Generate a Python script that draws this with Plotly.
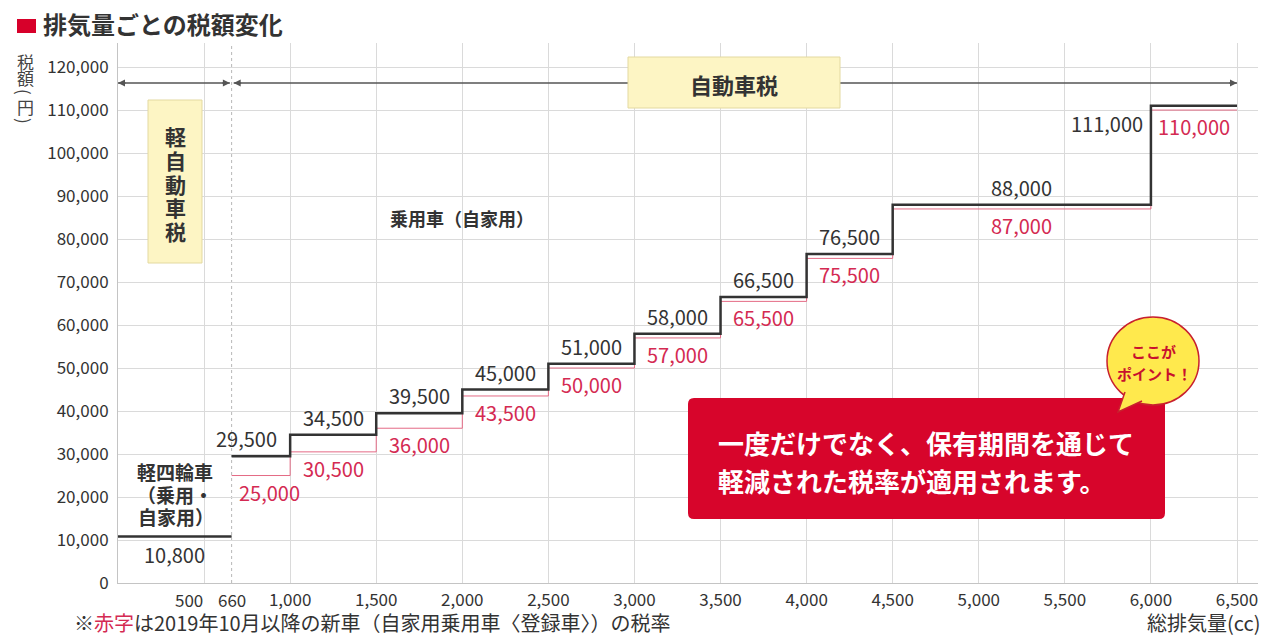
import plotly.graph_objects as go

# ---------------- data ----------------
kei_range = [0, 660]
kei_tax = 10800
bin_starts = [660, 1000, 1500, 2000, 2500, 3000, 3500, 4000, 4500, 6000]
bin_end = 6500
current_tax = [29500, 34500, 39500, 45000, 51000, 58000, 66500, 76500, 88000, 111000]
new_tax = [25000, 30500, 36000, 43500, 50000, 57000, 65500, 75500, 87000, 110000]
x_tick_vals = [500, 1000, 1500, 2000, 2500, 3000, 3500, 4000, 4500, 5000, 5500, 6000, 6500]
x_tick_text = ["500", "1,000", "1,500", "2,000", "2,500", "3,000", "3,500", "4,000",
               "4,500", "5,000", "5,500", "6,000", "6,500"]
y_tick_vals = [0, 10000, 20000, 30000, 40000, 50000, 60000, 70000, 80000, 90000, 100000, 110000, 120000]
y_tick_text = ["0", "10,000", "20,000", "30,000", "40,000", "50,000", "60,000", "70,000",
               "80,000", "90,000", "100,000", "110,000", "120,000"]
kei_boundary = 660

# ---------------- layout geometry ----------------
W, H = 1264, 636
L, R, T, B = 118, 6, 43, 53
PW, PH = W - L - R, H - T - B
SL, SB = L, H - B
JP = "Noto Sans CJK JP"
DARK = "#333333"
RED = "#d42a52"


def X(px):
    return (px - SL) / PW


def Y(py):
    return (SB - py) / PH


def fmt(v):
    return f"{v:,}"


step_x = bin_starts + [bin_end]
fig = go.Figure()
fig.add_trace(go.Scatter(x=step_x, y=new_tax + [new_tax[-1]], mode="lines", line_shape="hv",
                         line=dict(color="#e46a85", width=1), hoverinfo="skip", showlegend=False))
fig.add_trace(go.Scatter(x=step_x, y=current_tax + [current_tax[-1]], mode="lines", line_shape="hv",
                         line=dict(color=DARK, width=2.5), hoverinfo="skip", showlegend=False))
fig.add_trace(go.Scatter(x=kei_range, y=[kei_tax, kei_tax], mode="lines",
                         line=dict(color=DARK, width=2.5), hoverinfo="skip", showlegend=False))

ann = []
ends = bin_starts[1:] + [bin_end]
n = len(bin_starts)
for i in range(n):
    mid = (bin_starts[i] + ends[i]) / 2
    bx = -14 if i == 0 else 0
    rx = 9 if i == 0 else 0
    if i < n - 1:
        ann.append(dict(x=mid, y=current_tax[i], text=fmt(current_tax[i]), showarrow=False,
                        yanchor="bottom", yshift=1, xshift=bx,
                        font=dict(family=JP, size=20, color=DARK)))
    else:
        ann.append(dict(x=bin_starts[i], y=current_tax[i], text=fmt(current_tax[i]), showarrow=False,
                        xanchor="right", xshift=-6, yanchor="top", yshift=-1,
                        font=dict(family=JP, size=20, color=DARK)))
    ann.append(dict(x=mid, y=new_tax[i], text=fmt(new_tax[i]), showarrow=False,
                    yanchor="top", yshift=0, xshift=rx,
                    font=dict(family=JP, size=20, color=RED)))

ann.append(dict(x=sum(kei_range) / 2, y=kei_tax, text=fmt(kei_tax), showarrow=False,
                yanchor="top", yshift=-1, font=dict(family=JP, size=20, color=DARK)))

# tick labels near the kei boundary (500 is nudged left to make room for 660)
axis_labels = [(x_tick_vals[0], x_tick_text[0], -15), (kei_boundary, str(kei_boundary), 0)]
for xv, t, sh in axis_labels:
    ann.append(dict(x=xv, y=Y(599), yref="paper", text=t, showarrow=False, xshift=sh,
                    xanchor="center", yanchor="middle",
                    font=dict(family=JP, size=17, color=DARK)))
axis_tick_text = [""] + x_tick_text[1:]


def txt(px, py, text, size, color=DARK, xanchor="center", bold=False, angle=0):
    t = f"<b>{text}</b>" if bold else text
    ann.append(dict(x=X(px), y=Y(py), xref="paper", yref="paper", text=t, showarrow=False,
                    xanchor=xanchor, yanchor="middle", textangle=angle,
                    font=dict(family=JP, size=size, color=color)))


# title
txt(41, 24, "排気量ごとの税額変化", 24, color=DARK, xanchor="left", bold=True)
# y axis title (vertical)
txt(25, 61, "税", 17, color="#444444")
txt(25, 78, "額", 17, color="#444444")
txt(25, 92, "(", 17, color="#444444", angle=90)
txt(25, 107, "円", 17, color="#444444")
txt(25, 121, ")", 17, color="#444444", angle=90)

# 軽自動車税 vertical box text
for ch, py in zip("軽自動車税", [136, 160, 184, 207, 231]):
    txt(175, py, ch, 21, bold=True)
txt(734, 84, "自動車税", 22, bold=True)
txt(462, 218, "乗用車（自家用）", 18, bold=True)
txt(175, 471, "軽四輪車", 19, bold=True)
txt(175, 494, "（乗用・", 19, bold=True)
txt(176, 516, "自家用）", 19, bold=True)

# callout text
txt(716, 442, "一度だけでなく、保有期間を通じて", 26, color="white", xanchor="left", bold=True)
txt(716, 480, "軽減された税率が適用されます。", 26, color="white", xanchor="left", bold=True)
txt(1153, 351, "ここが", 15, color="#c8102e", bold=True)
txt(1154, 373, "ポイント！", 15, color="#c8102e", bold=True)

# footnotes
ann.append(dict(x=X(72), y=Y(622), xref="paper", yref="paper", showarrow=False, xanchor="left",
                yanchor="middle",
                text="※<span style='color:#d42a52'>赤字</span>は2019年10月以降の新車（自家用乗用車〈登録車〉）の税率",
                font=dict(family=JP, size=20, color=DARK)))
txt(1262, 623, "総排気量(cc)", 20, xanchor="right")

# arrow heads on the range line
arrow_y = Y(83)
for hx, dx in [(0, 9), (650, -9), (672, 9), (6500, -9)]:
    ann.append(dict(x=hx, y=arrow_y, xref="x", yref="paper", text="", showarrow=True,
                    ax=dx, ay=0, arrowhead=2, arrowsize=1, arrowwidth=1.4, arrowcolor="#555555",
                    standoff=0))

shapes = []
# dotted boundary at 660
shapes.append(dict(type="line", xref="x", yref="paper", x0=kei_boundary, x1=kei_boundary, y0=0, y1=1,
                   line=dict(color="#b8b8b8", width=1, dash="dot"), layer="below"))
# range lines
shapes.append(dict(type="line", xref="x", yref="paper", x0=0, x1=650, y0=arrow_y, y1=arrow_y,
                   line=dict(color="#555555", width=1.4)))
shapes.append(dict(type="line", xref="x", yref="paper", x0=672, x1=6500, y0=arrow_y, y1=arrow_y,
                   line=dict(color="#555555", width=1.4)))
# yellow boxes
shapes.append(dict(type="rect", xref="paper", yref="paper", x0=X(148), x1=X(202), y0=Y(263), y1=Y(100),
                   fillcolor="#fdf5c4", line=dict(color="#e3d9a0", width=1)))
shapes.append(dict(type="rect", xref="paper", yref="paper", x0=X(628), x1=X(840), y0=Y(108), y1=Y(57),
                   fillcolor="#fdf5c4", line=dict(color="#e3d9a0", width=1)))


def rounded(px0, py0, px1, py1, r):
    pts = [
        f"M{X(px0 + r)},{Y(py0)}", f"L{X(px1 - r)},{Y(py0)}", f"Q{X(px1)},{Y(py0)} {X(px1)},{Y(py0 + r)}",
        f"L{X(px1)},{Y(py1 - r)}", f"Q{X(px1)},{Y(py1)} {X(px1 - r)},{Y(py1)}",
        f"L{X(px0 + r)},{Y(py1)}", f"Q{X(px0)},{Y(py1)} {X(px0)},{Y(py1 - r)}",
        f"L{X(px0)},{Y(py0 + r)}", f"Q{X(px0)},{Y(py0)} {X(px0 + r)},{Y(py0)}", "Z"]
    return " ".join(pts)


shapes.append(dict(type="path", xref="paper", yref="paper", path=rounded(688, 398, 1165, 519, 6),
                   fillcolor="#d7052b", line=dict(width=0)))
# speech bubble
shapes.append(dict(type="circle", xref="paper", yref="paper", x0=X(1107), x1=X(1199), y0=Y(405), y1=Y(317),
                   fillcolor="#ffe94d", line=dict(color="#c8202e", width=1.5)))
shapes.append(dict(type="path", xref="paper", yref="paper",
                   path=f"M{X(1125)},{Y(392)} L{X(1118)},{Y(412)} L{X(1142)},{Y(401)}",
                   fillcolor="#ffe94d", line=dict(color="#c8202e", width=1.5)))
# title square
shapes.append(dict(type="rect", xref="paper", yref="paper", x0=X(17), x1=X(36), y0=Y(33), y1=Y(19),
                   fillcolor="#d7002a", line=dict(width=0)))

fig.update_layout(
    width=W, height=H, autosize=False,
    margin=dict(l=L, r=R, t=T, b=B, pad=0),
    paper_bgcolor="white", plot_bgcolor="white",
    showlegend=False,
    annotations=ann, shapes=shapes,
    xaxis=dict(range=[0, 6622], tickvals=x_tick_vals, ticktext=axis_tick_text, showgrid=True,
               gridcolor="#dadada", gridwidth=1, zeroline=False, showline=True, linecolor="#c4c4c4",
               ticks="outside", ticklen=2, tickcolor="rgba(0,0,0,0)",
               tickfont=dict(family=JP, size=17, color=DARK), fixedrange=True),
    yaxis=dict(range=[0, 125600], tickvals=y_tick_vals, ticktext=y_tick_text, showgrid=True,
               gridcolor="#dadada", gridwidth=1, zeroline=False, showline=True, linecolor="#c4c4c4",
               ticks="outside", ticklen=5, tickcolor="rgba(0,0,0,0)",
               tickfont=dict(family=JP, size=17, color=DARK), fixedrange=True),
)

# remove the browser's default 8px body margin so the figure fills the window exactly
fig.write_html("out.html", config={"displayModeBar": False},
               post_script="document.body.style.margin='0';document.body.style.overflow='hidden';")
